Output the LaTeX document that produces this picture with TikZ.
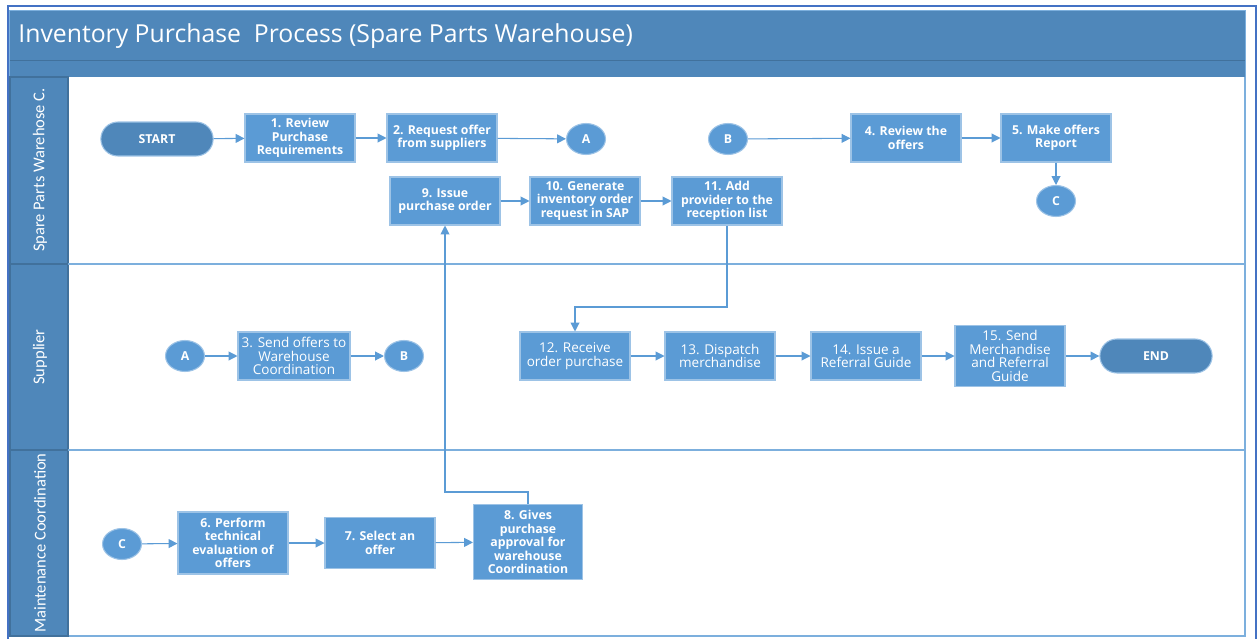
\documentclass[tikz,border=0pt]{standalone}
\usepackage{fontspec}
\setmainfont{Open Sans}
\newfontfamily\lanefont{Carlito}
\usetikzlibrary{positioning,calc,arrows.meta,shapes.geometric,shapes.misc}
\definecolor{cbox}{HTML}{5B9BD5}
\definecolor{cdark}{HTML}{4F87BA}
\definecolor{cedge}{HTML}{41719C}
\definecolor{cframe}{HTML}{4472C4}
\tikzset{
  every picture/.style={line width=0.6pt},
  sbox/.style={rectangle, fill=cbox, draw=cbox!60!white, text=white,
               font=\fontsize{7}{7.7}\selectfont\bfseries, align=center,
               minimum width=2.2cm, minimum height=0.96cm, inner sep=1pt},
  sboxl/.style={sbox, font=\fontsize{7.7}{7.7}\selectfont},
  sterm/.style={rounded rectangle, fill=cdark, draw=cbox!60!white, text=white,
                font=\fontsize{7}{7.7}\selectfont\bfseries, minimum width=2.48cm,
                minimum height=0.68cm},
  sref/.style={ellipse, fill=cbox, draw=cbox!60!white, text=white,
               font=\fontsize{7}{7.7}\selectfont\bfseries, minimum width=0.78cm,
               minimum height=0.62cm, inner sep=0pt},
  sflow/.style={draw=cbox, -{Triangle[length=5pt,width=5pt]}},
  slane/.style={rotate=90, text=white, font=\lanefont\fontsize{9.4}{11}\selectfont},
  ssep/.style={draw=cbox!80!white, line width=0.9pt},
}
\begin{document}
\begin{tikzpicture}[x=0.02cm, y=-0.02cm]
  \useasboundingbox (0,0) rectangle (1258,639);
  % pool frame and header
  \draw[cframe, line width=0.8pt] (8,6) rectangle (1256,642);
  \draw[ssep, fill=white] (10,11) rectangle (1245,636);
  \fill[cdark] (10,11) rectangle (1245,77);
  \draw[cedge, line width=0.5pt] (10,60) -- (1245,60);
  \node[anchor=west, text=white, font=\fontsize{14.1}{15}\selectfont] (T) at (12,36)
    {Inventory Purchase\ \ Process (Spare Parts Warehouse)};
  % lanes
  \draw[fill=cdark, draw=cedge] (10,77) rectangle (68,264);
  \draw[fill=cdark, draw=cedge] (10,264) rectangle (68,450);
  \draw[fill=cdark, draw=cedge] (10,450) rectangle (68,636);
  \draw[ssep] (68,264) -- (1245,264);
  \draw[ssep] (68,450) -- (1245,450);
  \node[slane] (L1) at (40,170) {Spare Parts Warehose C.};
  \node[slane] (L2) at (40,357) {Supplier};
  \node[slane] (L3) at (40,543) {Maintenance Coordination};

  % lane 1
  \node[sterm] (S) at (157,139) {START};
  \node[sbox] (R1) at (300,138) {1. Review\\Purchase\\Requirements};
  \node[sbox] (R2) at (442,138) {2. Request offer\\from suppliers};
  \node[sref] (A1) at (586,139) {A};
  \node[sref] (B1) at (728,139) {B};
  \node[sbox] (R4) at (906,138) {4. Review the\\offers};
  \node[sbox] (R5) at (1056,138) {5. Make offers\\Report};
  \node[sref] (C1) at (1056,201) {C};
  \node[sbox] (R9) at (445,201) {9. Issue\\purchase order};
  \node[sbox] (R10) at (585,201) {10. Generate\\inventory order\\request in SAP};
  \node[sbox] (R11) at (727,201) {11. Add\\provider to the\\reception list};

  % lane 2
  \node[sref] (A2) at (185,356) {A};
  \node[sboxl, minimum width=2.24cm] (R3) at (294,356) {3. Send offers to\\Warehouse\\Coordination};
  \node[sref] (B2) at (404,356) {B};
  \node[sboxl] (R12) at (575,356) {12. Receive\\order purchase};
  \node[sboxl] (R13) at (720,356) {13. Dispatch\\merchandise};
  \node[sboxl] (R14) at (866,356) {14. Issue a\\Referral Guide};
  \node[sboxl, minimum height=1.22cm] (R15) at (1010,356) {15. Send\\Merchandise\\and Referral\\Guide};
  \node[sterm] (E) at (1156,356) {END};

  % lane 3
  \node[sref] (C3) at (122,544) {C};
  \node[sbox, minimum height=1.24cm] (R6) at (233,543) {6. Perform\\technical\\evaluation of\\offers};
  \node[sbox, minimum height=1.02cm] (R7) at (380,543) {7. Select an\\offer};
  \node[sbox, minimum width=2.18cm, minimum height=1.5cm] (R8) at (528,542)
    {8. Gives\\purchase\\approval for\\warehouse\\Coordination};

  % bends
  \coordinate (K1) at (727,307);
  \coordinate (K2) at (528,492);

  % flows
  \draw[sflow] (S) -- (R1);
  \draw[sflow] (R1) -- (R2);
  \draw[sflow] (R2) -- (A1);
  \draw[sflow] (B1) -- (R4);
  \draw[sflow] (R4) -- (R5);
  \draw[sflow] (R5) -- (C1);
  \draw[sflow] (R9) -- (R10);
  \draw[sflow] (R10) -- (R11);
  \draw[sflow] (R11) -- (K1) -| (R12);
  \draw[sflow] (A2) -- (R3);
  \draw[sflow] (R3) -- (B2);
  \draw[sflow] (R12) -- (R13);
  \draw[sflow] (R13) -- (R14);
  \draw[sflow] (R14) -- (R15);
  \draw[sflow] (R15) -- (E);
  \draw[sflow] (C3) -- (R6);
  \draw[sflow] (R6) -- (R7);
  \draw[sflow] (R7) -- (R8);
  \draw[sflow] (R8) -- (K2) -| (R9);
\end{tikzpicture}
\end{document}
